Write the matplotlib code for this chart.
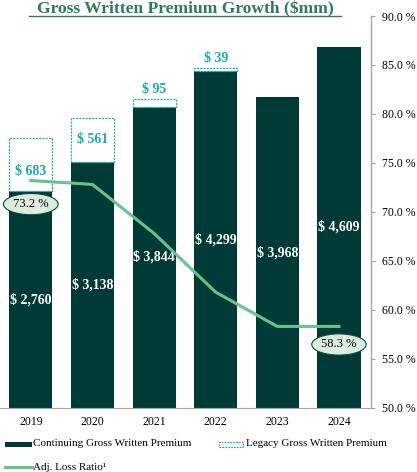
import matplotlib
matplotlib.use("Agg")
import matplotlib.pyplot as plt
from matplotlib.patches import Rectangle
from matplotlib.lines import Line2D
import numpy as np

plt.rcParams["font.family"] = ["Liberation Serif", "DejaVu Serif"]

# data ($mm and %)
years = ["2019", "2020", "2021", "2022", "2023", "2024"]
continuing = [2760, 3138, 3844, 4299, 3968, 4609]
legacy = [683, 561, 95, 39, 0, 0]
loss_ratio = [73.2, 72.8, 67.8, 61.8, 58.3, 58.3]

dark = "#003a37"
cyan = "#19aab0"
green_line = "#6cc08f"
title_green = "#2e7d57"
grey = "#a6a6a6"

fig = plt.figure(figsize=(4.17, 4.72), dpi=100)
ax = fig.add_axes([0.0, 0.1362, 0.8897, 0.8299])
x = np.arange(len(years))
w = 0.70

ax.bar(x, continuing, w, color=dark, zorder=2)
leg = ax.bar(x, legacy, w, bottom=continuing, facecolor="white",
             edgecolor=cyan, linewidth=0.9, linestyle=(0, (1.6, 1.0)), zorder=2)
for b, v in zip(leg, legacy):
    if v == 0:
        b.set_visible(False)

ax.set_xlim(-0.5, 5.52)
ax.set_ylim(0, 5000)
ax.set_yticks([])
ax.set_xticks(x, years, fontsize=8.5)
ax.tick_params(axis="x", length=0, pad=6)
for s in ["top", "left", "right"]:
    ax.spines[s].set_visible(False)
ax.spines["bottom"].set_color(grey)

# value labels on continuing bars
for i, v in enumerate(continuing):
    ax.text(i, v / 2, f"$ {v:,}", color="white", fontsize=10,
            fontweight="bold", ha="center", va="center", zorder=4)

# legacy labels: inside the box when large, above it when small
leg_offsets = [-5, 0, 0, 0]
for i, v in enumerate(legacy):
    if v == 0:
        continue
    if v > 300:
        ax.annotate(f"$ {v}", (i, continuing[i] + v / 2), xytext=(0, leg_offsets[i]),
                    textcoords="offset points", color=cyan, fontsize=10,
                    fontweight="bold", ha="center", va="center", zorder=4)
    else:
        ax.annotate(f"$ {v}", (i, continuing[i] + v), xytext=(0, 7),
                    textcoords="offset points", color=cyan, fontsize=10,
                    fontweight="bold", ha="center", va="center", zorder=4)

# loss ratio on right axis
ax2 = ax.twinx()
ax2.plot(x, loss_ratio, color=green_line, linewidth=2.2, zorder=3)
ax2.set_ylim(50, 90)
ax2.set_yticks(np.arange(50, 91, 5))
ax2.set_yticklabels([f"{t:.1f} %" for t in np.arange(50, 91, 5)], fontsize=8.5)
ax2.tick_params(axis="y", length=3, color=grey, pad=5)
for s in ["top", "left", "bottom"]:
    ax2.spines[s].set_visible(False)
ax2.spines["right"].set_color(grey)
ax2.spines["right"].set_linewidth(1.0)

ell = dict(boxstyle="ellipse,pad=0.12", fc="#dcede0", ec="#0b4a3a", lw=0.8)
ax2.annotate(f"{loss_ratio[0]:.1f} %", (0, loss_ratio[0]), xytext=(0, -17),
             textcoords="offset points", ha="center", va="center",
             fontsize=9, bbox=ell, zorder=5)
ax2.annotate(f"{loss_ratio[-1]:.1f} %", (5, loss_ratio[-1]), xytext=(0, -13),
             textcoords="offset points", ha="center", va="center",
             fontsize=9, bbox=ell, zorder=5)

# title with underline
fig.text(185 / 417, 1 - 1 / 472, "Gross Written Premium Growth ($mm)",
         ha="center", va="top", fontsize=12.6, fontweight="bold",
         color=title_green)
fig.add_artist(Line2D([29 / 417, 341 / 417], [1 - 15.5 / 472] * 2,
                      color=title_green, linewidth=1.0))

# legend drawn by hand
fig.add_artist(Rectangle((5 / 417, 1 - 446.5 / 472), 27 / 417, 5 / 472,
                         facecolor=dark, edgecolor="none"))
fig.text(33 / 417, 1 - 444 / 472, "Continuing Gross Written Premium",
         fontsize=8, va="center", ha="left")
fig.add_artist(Rectangle((219 / 417, 1 - 446.5 / 472), 24 / 417, 5 / 472,
                         facecolor="white", edgecolor=cyan, linewidth=0.8,
                         linestyle=(0, (1.6, 1))))
fig.text(246 / 417, 1 - 444 / 472, "Legacy Gross Written Premium",
         fontsize=8, va="center", ha="left")
fig.add_artist(Line2D([5 / 417, 32 / 417], [1 - 467 / 472] * 2,
                      color=green_line, linewidth=2.2))
fig.text(33 / 417, 1 - 467 / 472, "Adj. Loss Ratio\u00b9",
         fontsize=8, va="center", ha="left")

fig.savefig("out.png", dpi=100)
